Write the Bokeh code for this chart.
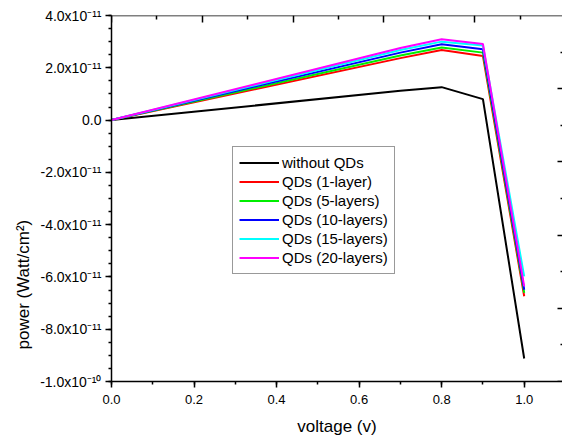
import numpy as np
from bokeh.plotting import figure
from bokeh.models import (Range1d, LinearAxis, FixedTicker, Legend, LegendItem,
                          NumeralTickFormatter, Title)
from bokeh.embed import file_html
from bokeh.resources import INLINE

# ---- data ----
voltage = [0.0, 0.7, 0.8, 0.9, 1.0]
without_qds = [0.0, 1.12e-11, 1.26e-11, 0.80e-11, -9.12e-11]
qds_1_layer = [0.0, 2.37e-11, 2.68e-11, 2.45e-11, -6.74e-11]
qds_5_layers = [0.0, 2.47e-11, 2.78e-11, 2.58e-11, -6.61e-11]
qds_10_layers = [0.0, 2.58e-11, 2.90e-11, 2.71e-11, -6.49e-11]
qds_15_layers = [0.0, 2.68e-11, 3.00e-11, 2.85e-11, -5.98e-11]
qds_20_layers = [0.0, 2.76e-11, 3.09e-11, 2.91e-11, -6.36e-11]

series_names = ["without QDs", "QDs (1-layer)", "QDs (5-layers)", "QDs (10-layers)",
                "QDs (15-layers)", "QDs (20-layers)"]
series_values = [without_qds, qds_1_layer, qds_5_layers, qds_10_layers, qds_15_layers, qds_20_layers]
series_colors = ["#000000", "#ff0000", "#00ee00", "#0000ff", "#00ffff", "#ff00ff"]

y_tick_values = [-1e-10, -8e-11, -6e-11, -4e-11, -2e-11, 0.0, 2e-11, 4e-11]
y_tick_labels = ["-1.0x10\u207b\u00b9\u2070", "-8.0x10\u207b\u00b9\u00b9", "-6.0x10\u207b\u00b9\u00b9",
                 "-4.0x10\u207b\u00b9\u00b9", "-2.0x10\u207b\u00b9\u00b9", "0.0",
                 "2.0x10\u207b\u00b9\u00b9", "4.0x10\u207b\u00b9\u00b9"]
x_tick_values = [0.0, 0.2, 0.4, 0.6, 0.8, 1.0]
x_title = "voltage (v)"
y_title = "power (Watt/cm\u00b2)"

FONT = "Liberation Sans"
Y_MIN, Y_MAX = -1e-10, 4e-11
X_END = 1.0928

p = figure(width=562, height=438, output_backend="svg", toolbar_location=None,
           x_range=Range1d(0, X_END), y_range=Range1d(Y_MIN, Y_MAX),
           min_border_left=111, min_border_right=0, min_border_top=15, min_border_bottom=56)
p.xgrid.visible = False
p.ygrid.visible = False
p.outline_line_color = None
p.background_fill_color = "white"
p.border_fill_color = "white"

renderers = []
for name, vals, col in zip(series_names, series_values, series_colors):
    r = p.line(voltage, vals, line_color=col, line_width=2)
    renderers.append((name, r))

def style_axis(ax):
    ax.axis_line_color = "black"
    ax.axis_line_width = 1.5
    ax.major_tick_line_color = "black"
    ax.minor_tick_line_color = "black"
    ax.major_tick_line_width = 1.5
    ax.minor_tick_line_width = 1.5
    ax.major_label_text_color = "black"
    ax.major_label_text_font = FONT
    ax.axis_label_text_color = "black"
    ax.axis_label_text_font = FONT
    ax.axis_label_text_font_style = "normal"
    ax.axis_label_text_font_size = "17px"

# bottom axis
xa = p.xaxis[0]
style_axis(xa)
xa.ticker = FixedTicker(ticks=x_tick_values, minor_ticks=list(np.round(np.arange(0, 1.11, 0.1), 2)))
xa.formatter = NumeralTickFormatter(format="0.0")
xa.major_tick_out = 6
xa.major_tick_in = 0
xa.minor_tick_out = 3
xa.minor_tick_in = 0
xa.major_label_text_font_size = "13px"
xa.major_label_standoff = 7
xa.axis_label = x_title
xa.axis_label_standoff = 10

# left axis
ya = p.yaxis[0]
style_axis(ya)
ya.ticker = FixedTicker(ticks=y_tick_values,
                        minor_ticks=[Y_MIN + k * 0.5e-11 for k in range(29)])
ya.major_label_overrides = {v: s for v, s in zip(y_tick_values, y_tick_labels)}
ya.major_tick_out = 6
ya.major_tick_in = 0
ya.minor_tick_out = 3
ya.minor_tick_in = 0
ya.major_label_text_font_size = "14px"
ya.major_label_standoff = 4

# y title: a side title, shifted down from the frame centre like the reference
ytitle = Title(text=y_title, align="left", offset=32, standoff=9,
               text_font=FONT, text_font_size="17px", text_font_style="normal",
               text_color="black")
p.add_layout(ytitle, "left")

# top axis: tick marks only (long and short), drawn as label-free minor ticks
top_major_pos = [k * 0.22 for k in range(6)]
top_minor_pos = [0.11 + k * 0.22 for k in range(5)]
top_long = LinearAxis(ticker=FixedTicker(ticks=[], minor_ticks=top_major_pos), fixed_location=Y_MAX)
style_axis(top_long)
top_long.minor_tick_in = 7
top_long.minor_tick_out = 0
top_long.major_label_standoff = 0
p.add_layout(top_long, "above")
top_short = LinearAxis(ticker=FixedTicker(ticks=[], minor_ticks=top_minor_pos), fixed_location=Y_MAX)
style_axis(top_short)
top_short.axis_line_color = None
top_short.minor_tick_in = 4
top_short.minor_tick_out = 0
top_short.major_label_standoff = 0
p.add_layout(top_short, "above")

# right axis: tick marks only, its line lies beyond the picture edge
right_major_pos = [Y_MIN + k * 2.8e-11 for k in range(6)]
right_minor_pos = [Y_MIN + 1.4e-11 + k * 2.8e-11 for k in range(5)]
right_long = LinearAxis(ticker=FixedTicker(ticks=[], minor_ticks=right_major_pos), fixed_location=X_END)
style_axis(right_long)
right_long.axis_line_color = None
right_long.minor_tick_in = 5
right_long.minor_tick_out = 0
right_long.major_label_standoff = 0
p.add_layout(right_long, "right")
right_short = LinearAxis(ticker=FixedTicker(ticks=[], minor_ticks=right_minor_pos), fixed_location=X_END)
style_axis(right_short)
right_short.axis_line_color = None
right_short.minor_tick_in = 2
right_short.minor_tick_out = 0
right_short.major_label_standoff = 0
p.add_layout(right_short, "right")

legend = Legend(items=[LegendItem(label=n, renderers=[r]) for n, r in renderers],
                location=(121, 107))
legend.label_text_font = FONT
legend.label_text_font_size = "15px"
legend.label_text_color = "black"
legend.glyph_width = 40
legend.glyph_height = 19
legend.label_height = 19
legend.label_standoff = 3
legend.spacing = 0
legend.padding = 6
legend.margin = 0
legend.border_line_color = "#333333"
legend.border_line_width = 1
legend.background_fill_color = "white"
legend.background_fill_alpha = 1.0
p.add_layout(legend)

open("out.html", "w").write(file_html(p, INLINE))
